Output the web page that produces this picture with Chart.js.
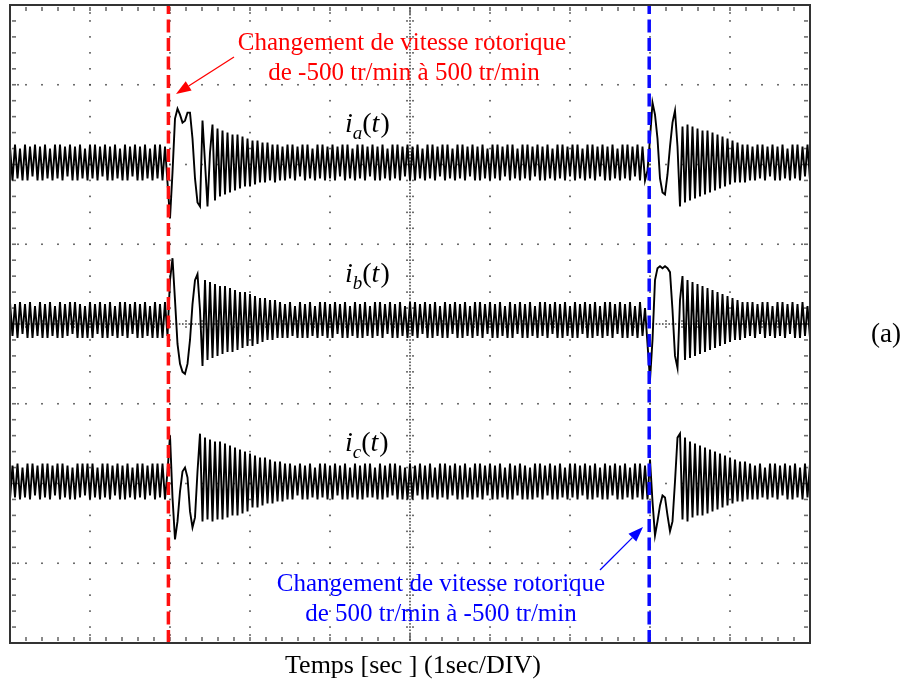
<!DOCTYPE html>
<html>
<head>
<meta charset="utf-8">
<title>Courants ia, ib, ic - changement de vitesse</title>
<script src="https://cdn.jsdelivr.net/npm/chart.js@4.4.0/dist/chart.umd.min.js"></script>
<style>
  html, body { margin: 0; background: #fff; }
  canvas { display: block; }
</style>
</head>
<body>
<canvas id="scope" width="903" height="685"></canvas>
<script>
// sample step of the traces, in s (time axis: 10 DIV at 1 s/DIV)
const dt = 1 / 32;
// instants of the speed reversals, s
const switchTimes = [1.98, 7.99];

// currents, in 1/40 DIV, one value per sample
const ia = [
  8,-9,9,-8,7,-9,9,-9,8,-7,9,-9,8,-9,9,-8,
  7,-9,9,-8,9,-9,8,-7,9,-9,8,-9,9,-8,7,-9,
  9,-8,9,-9,8,-7,9,-9,8,-9,9,-8,7,-9,9,-9,
  8,-7,9,-9,8,-9,9,-8,7,-9,9,-8,9,-9,8,-10,
  -28,-5,22,27,24,20,21,25,25,12,-8,-20,-22,21,0,-22,
  5,19,-19,17,-17,16,-16,15,-15,14,-14,14,-13,13,-12,12,
  -12,11,-11,11,-10,10,-10,10,-9,9,-10,9,-9,8,-9,9,
  -8,9,-9,8,-7,9,-9,9,-8,7,-9,9,-8,9,-9,8,
  -8,9,-9,8,-7,9,-9,9,-8,7,-9,9,-8,9,-9,8,
  -7,9,-9,8,-9,9,-8,7,-9,9,-8,9,-9,8,-7,9,
  -9,8,-9,9,-8,7,-9,9,-8,9,-9,8,-7,9,-9,9,
  -8,7,-9,9,-8,9,-9,8,-7,9,-9,8,-9,9,-8,7,
  -9,9,-8,9,-9,8,-7,9,-9,9,-8,7,-9,9,-8,9,
  -9,8,-7,9,-9,8,-9,9,-8,7,-9,9,-8,9,-9,8,
  -7,9,-9,9,-8,7,-9,9,-8,9,-9,8,-7,9,-9,8,
  -9,9,-8,7,-9,9,-8,9,-9,8,-7,9,-9,8,-9,-4,
  12,30,24,12,-8,-15,-16,-6,8,20,26,8,-22,18,-20,19,
  -19,18,-18,17,-17,16,-16,16,-15,15,-14,14,-13,13,-12,12,
  -11,11,-10,10,-10,9,-10,9,-9,8,-9,9,-8,9,-9,8,
  -7,9,-9,8,-9,9,-8,7,-9,9,-8,9,-9,8,-7,9,
  -9
];

const ib = [
  9,-8,8,-9,9,-7,8,-9,9,-9,7,-8,9,-9,8,-9,
  9,-8,7,-9,9,-9,8,-8,9,-7,9,-9,8,-9,7,-9,
  9,-9,8,-7,9,-9,8,-9,9,-8,7,-9,9,-8,9,-9,
  8,-7,9,-9,8,-9,9,-8,7,-9,9,-9,8,-9,9,-8,
  20,31,10,-12,-22,-26,-27,-22,-10,8,20,23,5,-23,20,-20,
  19,-19,18,-18,17,-17,17,-16,16,-16,15,-15,14,-14,14,-13,
  13,-13,12,-12,11,-11,11,-10,10,-10,10,-9,9,-9,8,-9,
  9,-8,7,-9,9,-9,8,-9,9,-8,7,-9,9,-8,9,-9,
  8,-9,9,-7,8,-9,9,-9,7,-8,9,-9,8,-9,9,-8,
  7,-9,9,-8,9,-9,8,-7,9,-9,8,-9,9,-8,7,-9,
  9,-8,9,-9,8,-7,9,-9,8,-9,9,-8,7,-9,9,-9,
  8,-7,9,-9,8,-9,9,-8,7,-9,9,-8,9,-9,8,-7,
  9,-9,8,-9,9,-8,7,-9,9,-9,8,-7,9,-9,8,-9,
  9,-8,7,-9,9,-8,9,-9,8,-7,9,-9,8,-9,9,-8,
  7,-9,9,-9,8,-7,9,-9,8,-9,9,-8,7,-9,9,-8,
  9,-9,8,-7,9,-9,8,-9,9,-8,7,-9,9,-8,6,-12,
  -30,-10,20,26,27,26,27,26,24,5,-18,-24,10,22,-20,20,
  -19,19,-18,18,-17,17,-16,16,-15,15,-14,14,-13,13,-12,12,
  -11,11,-10,10,-10,9,-9,9,-8,9,-9,8,-7,9,-9,9,
  -8,7,-9,9,-8,9,-9,8,-7,9,-9,8,-9,9,-8,7,
  -9
];

const ic = [
  -9,8,-8,9,-9,7,-8,9,-9,9,-7,8,-9,9,-8,9,
  -9,8,-7,9,-9,9,-8,8,-9,7,-9,9,-8,9,-7,9,
  -9,9,-8,7,-9,9,-8,9,-9,8,-7,9,-9,8,-9,9,
  -8,7,-9,9,-8,9,-9,8,-7,9,-9,9,-8,9,-9,5,
  23,-8,-29,-20,-5,5,7,2,-15,-23,-18,5,24,-20,22,-19,
  21,-20,20,-19,20,-19,19,-18,18,-17,17,-17,16,-16,15,-15,
  14,-13,13,-13,12,-12,12,-11,11,-11,10,-10,10,-10,9,-9,
  9,-9,8,-7,9,-9,8,-9,9,-8,7,-9,9,-8,9,-9,
  8,-9,9,-7,8,-9,9,-9,7,-8,9,-9,8,-9,9,-8,
  9,-8,7,-9,9,-9,8,-8,9,-7,9,-9,8,-9,7,-9,
  9,-9,8,-7,9,-9,8,-9,9,-8,7,-9,9,-8,9,-9,
  8,-7,9,-9,8,-9,9,-8,7,-9,9,-8,9,-9,8,-7,
  9,-9,8,-9,9,-8,7,-9,9,-9,8,-7,9,-9,8,-9,
  7,-9,9,-8,9,-9,8,-7,9,-9,8,-9,9,-8,7,-9,
  9,-8,9,-9,8,-7,9,-9,8,-9,9,-8,7,-9,9,-9,
  8,-7,9,-9,8,-9,9,-8,7,-9,9,-8,9,-9,8,-9,
  11,-10,-27,-20,-12,-7,-8,-17,-25,-20,0,22,24,-19,22,-20,
  20,-18,19,-17,18,-17,17,-16,16,-15,15,-14,14,-13,13,-12,
  12,-11,11,-10,10,-10,10,-9,9,-9,8,-9,9,-8,7,-9,
  9,-8,9,-9,8,-7,9,-9,8,-9,9,-8,7,-9,9,-8,
  9
];

// where each trace sits on the screen (1/40 DIV from centre)
const traceOffsets = [81, 2, -79];
const traceLabels = ['a', 'b', 'c'];
const labelBaselines = [132, 282, 451];

const serif = '"Liberation Serif", "Times New Roman", serif';

function toPoints(vals, off) {
  return vals.map((v, i) => ({ x: i * dt, y: v + off }));
}

const traceSets = [ia, ib, ic].map((vals, k) => ({
  data: toPoints(vals, traceOffsets[k]),
  borderColor: '#000',
  borderWidth: 1.9,
  pointRadius: 0,
  order: 2
}));

const markerSets = switchTimes.map((t, k) => ({
  data: [{ x: t, y: -160 }, { x: t, y: 160 }],
  borderColor: k === 0 ? '#ff1010' : '#0a0aff',
  borderWidth: 3.5,
  borderDash: [13, 5.5],
  pointRadius: 0,
  order: 0
}));

// oscilloscope graticule: dotted divisions, centre cross, edge ticks
const graticule = {
  id: 'graticule',
  beforeDatasetsDraw(chart) {
    const { ctx, chartArea: a, scales: { x, y } } = chart;
    ctx.save();
    ctx.fillStyle = '#4a4a4a';
    const dot = (px, py) => ctx.fillRect(px - 0.8, py - 0.8, 1.6, 1.6);

    // minor positions: 5 per DIV
    for (let d = 1; d < 10; d++) {
      if (d === 5) continue;
      const px = x.getPixelForValue(d);
      for (let m = 1; m < 40; m++) dot(px, y.getPixelForValue(-160 + m * 8));
    }
    for (let d = -3; d <= 3; d++) {
      if (d === 0) continue;
      const py = y.getPixelForValue(d * 40);
      for (let m = 1; m < 50; m++) dot(x.getPixelForValue(m * 0.2), py);
    }

    // centre cross
    const cx = x.getPixelForValue(5), cy = y.getPixelForValue(0);
    for (let m = 1; m < 200; m++) dot(cx, y.getPixelForValue(-160 + m * 1.6));
    for (let m = 1; m < 250; m++) dot(x.getPixelForValue(m * 0.04), cy);
    for (let m = 1; m < 40; m++) {
      const py = y.getPixelForValue(-160 + m * 8);
      dot(cx - 3, py); dot(cx + 3, py);
    }
    for (let m = 1; m < 50; m++) {
      const px = x.getPixelForValue(m * 0.2);
      dot(px, cy - 3); dot(px, cy + 3);
    }

    // ticks on the frame
    for (let m = 1; m < 40; m++) {
      const py = y.getPixelForValue(-160 + m * 8);
      dot(a.left + 3, py); dot(a.left + 5, py);
      dot(a.right - 3, py); dot(a.right - 5, py);
      if (m % 5 === 0) {
        dot(a.left + 8, py); dot(a.right - 8, py);
      }
    }
    for (let m = 1; m < 50; m++) {
      const px = x.getPixelForValue(m * 0.2);
      dot(px, a.top + 3); dot(px, a.top + 5);
      dot(px, a.bottom - 3); dot(px, a.bottom - 5);
      if (m % 5 === 0) {
        dot(px, a.top + 8); dot(px, a.bottom - 8);
      }
    }
    ctx.restore();
  },
  afterDatasetsDraw(chart) {
    const { ctx, chartArea: a } = chart;
    ctx.save();
    ctx.strokeStyle = '#333';
    ctx.lineWidth = 2;
    ctx.strokeRect(a.left, a.top, a.right - a.left, a.bottom - a.top);
    ctx.restore();
  }
};

function arrow(ctx, x0, y0, x1, y1, color) {
  const ang = Math.atan2(y1 - y0, x1 - x0);
  const len = 15, half = 5.5;
  const bx = x1 - len * Math.cos(ang), by = y1 - len * Math.sin(ang);
  ctx.strokeStyle = color;
  ctx.fillStyle = color;
  ctx.lineWidth = 1.3;
  ctx.beginPath();
  ctx.moveTo(x0, y0);
  ctx.lineTo(bx, by);
  ctx.stroke();
  ctx.beginPath();
  ctx.moveTo(x1, y1);
  ctx.lineTo(bx + half * Math.sin(ang), by - half * Math.cos(ang));
  ctx.lineTo(bx - half * Math.sin(ang), by + half * Math.cos(ang));
  ctx.closePath();
  ctx.fill();
}

function traceLabel(ctx, x, y, sub) {
  ctx.textAlign = 'left';
  ctx.fillStyle = '#000';
  const parts = [
    ['i', 'italic 28px ' + serif, 0],
    [sub, 'italic 19px ' + serif, 7],
    ['(', '28px ' + serif, 0],
    ['t', 'italic 28px ' + serif, 0],
    [')', '28px ' + serif, 0]
  ];
  for (const [s, f, dy] of parts) {
    ctx.font = f;
    ctx.fillText(s, x, y + dy);
    x += ctx.measureText(s).width + (s === 't' ? 1 : 0);
  }
}

const annotations = {
  id: 'annotations',
  afterDraw(chart) {
    const { ctx } = chart;
    ctx.save();
    ctx.textBaseline = 'alphabetic';

    ctx.font = '25px ' + serif;
    ctx.textAlign = 'center';
    ctx.fillStyle = '#ff0000';
    ctx.fillText('Changement de vitesse rotorique', 402, 50);
    ctx.fillText('de -500 tr/min à 500 tr/min', 404, 80);
    arrow(ctx, 234, 57, 176, 94, '#ff0000');

    ctx.fillStyle = '#0000ff';
    ctx.fillText('Changement de vitesse rotorique', 441, 591);
    ctx.fillText('de 500 tr/min à -500 tr/min', 441, 621);
    arrow(ctx, 600, 570, 643, 527, '#0000ff');

    ctx.fillStyle = '#000';
    ctx.font = '26px ' + serif;
    ctx.fillText('Temps [sec ] (1sec/DIV)', 413, 673);
    ctx.font = '27px ' + serif;
    ctx.fillText('(a)', 886, 342);

    traceLabels.forEach((s, k) => traceLabel(ctx, 345, labelBaselines[k], s));
    ctx.restore();
  }
};

new Chart(document.getElementById('scope'), {
  type: 'line',
  data: { datasets: markerSets.concat(traceSets) },
  options: {
    responsive: false,
    devicePixelRatio: 1,
    animation: false,
    layout: { padding: { left: 10, top: 5, right: 93, bottom: 42 } },
    elements: { line: { tension: 0 } },
    plugins: { legend: { display: false }, tooltip: { enabled: false } },
    scales: {
      x: { type: 'linear', min: 0, max: 10, display: false },
      y: { type: 'linear', min: -160, max: 160, display: false }
    }
  },
  plugins: [graticule, annotations]
});
</script>
</body>
</html>
